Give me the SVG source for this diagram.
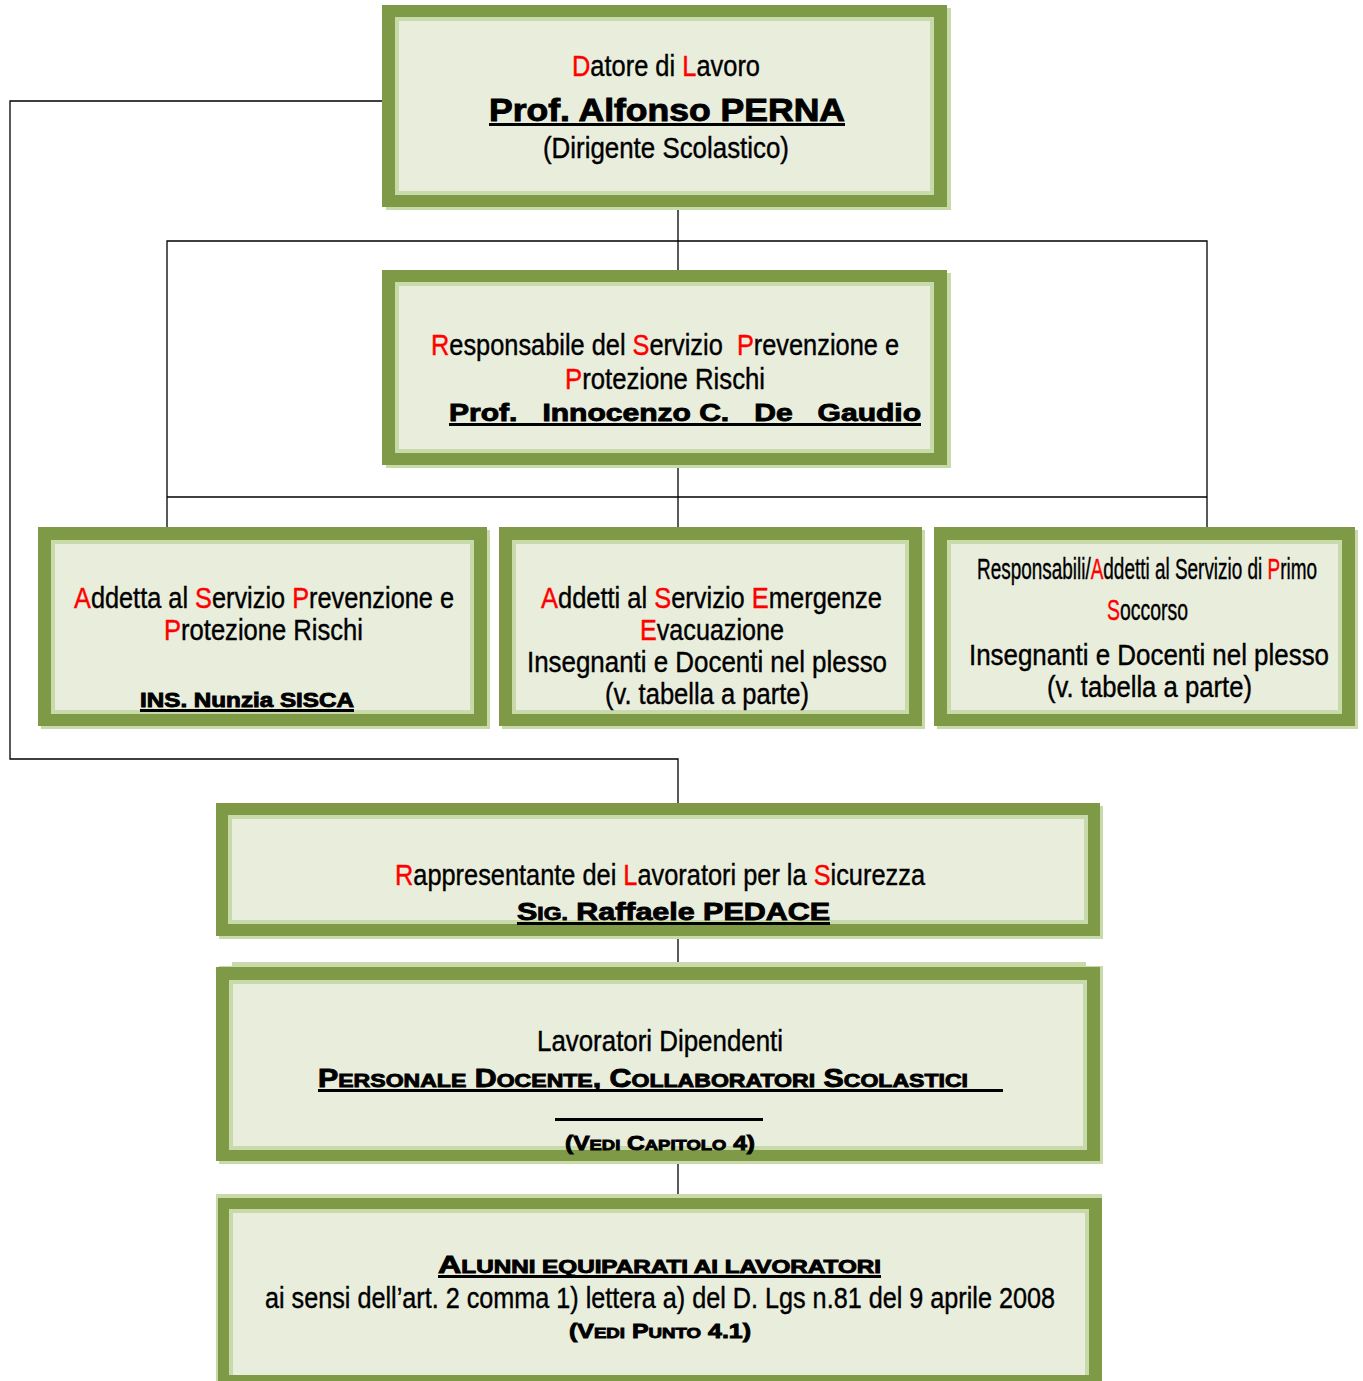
<svg xmlns="http://www.w3.org/2000/svg" width="1363" height="1381" viewBox="0 0 1363 1381">
<style>
.sh{fill:#C8DAA9}
.dk{fill:#7F9A47}
.lt{fill:#C8DAA9}
.bg{fill:#E9EDDC}
.t{font-family:"Liberation Sans Narrow","Liberation Sans",Arial,sans-serif;font-size:29px;fill:#000;stroke:#000;stroke-width:0.4;text-anchor:middle}
.b{font-family:"Liberation Sans",Arial,sans-serif;font-weight:bold;fill:#000;stroke:#000;stroke-width:0.9;text-anchor:middle}
.r{fill:#FF0000;stroke:#FF0000}
.ul{fill:#000}
.c{stroke:#000;stroke-width:1.3;fill:none}
</style>
<rect width="1363" height="1381" fill="#fff"/>
<g id="connectors">
<polyline class="c" points="383,101 10,101 10,759 678,759 678,804"/>
<line class="c" x1="678" y1="208" x2="678" y2="272"/>
<polyline class="c" points="167,528 167,241 1207,241 1207,528"/>
<line class="c" x1="167" y1="497" x2="1207" y2="497"/>
<line class="c" x1="678" y1="465" x2="678" y2="529"/>
<line class="c" x1="678" y1="936" x2="678" y2="966"/>
<line class="c" x1="678" y1="1160" x2="678" y2="1196"/>
</g>
<g id="n1">
<rect class="sh" x="386" y="8" width="565" height="202"/>
<rect class="dk" x="382" y="5" width="565" height="202"/>
<rect class="lt" x="395" y="17" width="539" height="178"/>
<rect class="bg" x="399" y="21" width="531" height="170"/>
<text class="t" x="666" y="76" textLength="188" lengthAdjust="spacingAndGlyphs"><tspan class="r">D</tspan>atore di <tspan class="r">L</tspan>avoro</text>
<text class="b" x="667" y="121" font-size="31" textLength="356" lengthAdjust="spacingAndGlyphs">Prof. Alfonso PERNA</text>
<rect class="ul" x="489" y="123" width="356" height="3"/>
<text class="t" x="666" y="158" textLength="246" lengthAdjust="spacingAndGlyphs">(Dirigente Scolastico)</text>
</g>
<g id="n2">
<rect class="sh" x="386" y="273" width="565" height="195"/>
<rect class="dk" x="382" y="270" width="565" height="195"/>
<rect class="lt" x="395" y="282" width="539" height="171"/>
<rect class="bg" x="399" y="286" width="531" height="163"/>
<text class="t" x="665" y="355" textLength="468" lengthAdjust="spacingAndGlyphs" xml:space="preserve"><tspan class="r">R</tspan>esponsabile del <tspan class="r">S</tspan>ervizio  <tspan class="r">P</tspan>revenzione e</text>
<text class="t" x="665" y="389" textLength="200" lengthAdjust="spacingAndGlyphs"><tspan class="r">P</tspan>rotezione Rischi</text>
<text class="b" x="685" y="421" font-size="24" textLength="472" lengthAdjust="spacingAndGlyphs" xml:space="preserve">Prof.   Innocenzo C.   De   Gaudio</text>
<rect class="ul" x="449" y="423" width="472" height="3"/>
</g>
<g id="n3">
<rect class="sh" x="41" y="530" width="449" height="199"/>
<rect class="dk" x="38" y="527" width="449" height="199"/>
<rect class="lt" x="51" y="540" width="423" height="174"/>
<rect class="bg" x="55" y="544" width="415" height="166"/>
<text class="t" x="264" y="608" textLength="380" lengthAdjust="spacingAndGlyphs"><tspan class="r">A</tspan>ddetta al <tspan class="r">S</tspan>ervizio <tspan class="r">P</tspan>revenzione e</text>
<text class="t" x="263.5" y="640" textLength="199" lengthAdjust="spacingAndGlyphs"><tspan class="r">P</tspan>rotezione Rischi</text>
<text class="b" x="247" y="707" font-size="20" textLength="214" lengthAdjust="spacingAndGlyphs">INS. Nunzia SISCA</text>
<rect class="ul" x="140" y="709" width="214" height="3"/>
</g>
<g id="n4">
<rect class="sh" x="502" y="530" width="423" height="199"/>
<rect class="dk" x="499" y="527" width="423" height="199"/>
<rect class="lt" x="512" y="540" width="397" height="174"/>
<rect class="bg" x="516" y="544" width="389" height="166"/>
<text class="t" x="711.5" y="608" textLength="341" lengthAdjust="spacingAndGlyphs"><tspan class="r">A</tspan>ddetti al <tspan class="r">S</tspan>ervizio <tspan class="r">E</tspan>mergenze</text>
<text class="t" x="712" y="640" textLength="144" lengthAdjust="spacingAndGlyphs"><tspan class="r">E</tspan>vacuazione</text>
<text class="t" x="707" y="672" textLength="360" lengthAdjust="spacingAndGlyphs">Insegnanti e Docenti nel plesso</text>
<text class="t" x="707" y="704" textLength="204" lengthAdjust="spacingAndGlyphs">(v. tabella a parte)</text>
</g>
<g id="n5">
<rect class="sh" x="937" y="530" width="421" height="199"/>
<rect class="dk" x="934" y="527" width="421" height="199"/>
<rect class="lt" x="947" y="540" width="395" height="174"/>
<rect class="bg" x="951" y="544" width="387" height="166"/>
<text class="t" x="1147" y="579" font-size="20" textLength="340" lengthAdjust="spacingAndGlyphs">Responsabili/<tspan class="r">A</tspan>ddetti al Servizio di <tspan class="r">P</tspan>rimo</text>
<text class="t" x="1147.5" y="620" font-size="20" textLength="81" lengthAdjust="spacingAndGlyphs"><tspan class="r">S</tspan>occorso</text>
<text class="t" x="1149" y="665" textLength="360" lengthAdjust="spacingAndGlyphs">Insegnanti e Docenti nel plesso</text>
<text class="t" x="1149.5" y="697" textLength="205" lengthAdjust="spacingAndGlyphs">(v. tabella a parte)</text>
</g>
<g id="n6">
<rect class="sh" x="219" y="806" width="884" height="133"/>
<rect class="dk" x="216" y="803" width="884" height="133"/>
<rect class="lt" x="228" y="815" width="860" height="109"/>
<rect class="bg" x="232" y="819" width="852" height="101"/>
<text class="t" x="660" y="885" textLength="530" lengthAdjust="spacingAndGlyphs"><tspan class="r">R</tspan>appresentante dei <tspan class="r">L</tspan>avoratori per la <tspan class="r">S</tspan>icurezza</text>
<text class="b" x="673.5" y="920" font-size="24" textLength="313" lengthAdjust="spacingAndGlyphs">S<tspan font-size="18">IG.</tspan> Raffaele PEDACE</text>
<rect class="ul" x="517" y="922" width="313" height="3"/>
</g>
<g id="n7">
<rect class="sh" x="232" y="962" width="854" height="10"/>
<rect class="sh" x="219" y="966" width="884" height="198"/>
<rect class="dk" x="216" y="967" width="884" height="194"/>
<rect class="lt" x="229" y="980" width="858" height="170"/>
<rect class="bg" x="233" y="984" width="850" height="162"/>
<text class="t" x="660" y="1051" textLength="246" lengthAdjust="spacingAndGlyphs">Lavoratori Dipendenti</text>
<text class="b" x="318" y="1087" font-size="25" style="text-anchor:start" textLength="650" lengthAdjust="spacingAndGlyphs">P<tspan font-size="19">ERSONALE</tspan> D<tspan font-size="19">OCENTE</tspan>, C<tspan font-size="19">OLLABORATORI</tspan> S<tspan font-size="19">COLASTICI</tspan></text>
<rect class="ul" x="318" y="1089" width="685" height="3"/>
<rect class="ul" x="555" y="1118" width="208" height="3"/>
<text class="b" x="660" y="1150" font-size="20" textLength="190" lengthAdjust="spacingAndGlyphs">(V<tspan font-size="15">EDI</tspan> C<tspan font-size="15">APITOLO</tspan> 4)</text>
</g>
<g id="n8">
<rect class="sh" x="216" y="1194" width="886" height="190"/>
<rect class="dk" x="218" y="1198" width="884" height="186"/>
<rect class="lt" x="229" y="1209" width="860" height="175"/>
<rect class="bg" x="233" y="1213" width="852" height="163"/>
<rect class="dk" x="229" y="1375" width="860" height="6"/>
<text class="b" x="659.5" y="1273" font-size="24" textLength="443" lengthAdjust="spacingAndGlyphs">A<tspan font-size="18">LUNNI EQUIPARATI AI LAVORATORI</tspan></text>
<rect class="ul" x="438" y="1275" width="443" height="3"/>
<text class="t" x="660" y="1308" textLength="790" lengthAdjust="spacingAndGlyphs">ai sensi dell’art. 2 comma 1) lettera a) del D. Lgs n.81 del 9 aprile 2008</text>
<text class="b" x="660" y="1338" font-size="20" textLength="182" lengthAdjust="spacingAndGlyphs">(V<tspan font-size="15">EDI</tspan> P<tspan font-size="15">UNTO</tspan> 4.1)</text>
</g>
</svg>
